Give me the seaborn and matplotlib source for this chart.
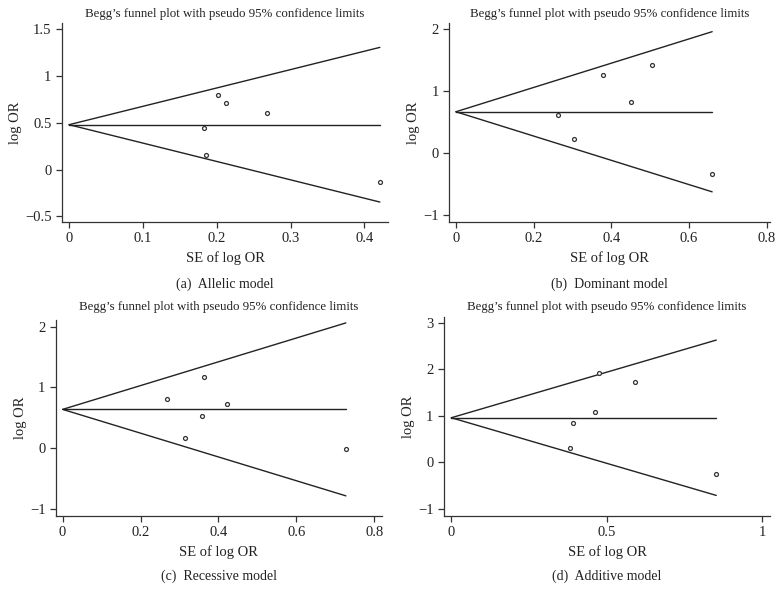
import numpy as np
import pandas as pd
import matplotlib
matplotlib.use("Agg")
import matplotlib.pyplot as plt
import seaborn as sns

# values (SE of log OR, log OR) per genetic model
se_allelic = [0.202, 0.213, 0.268, 0.183, 0.185, 0.421]
lor_allelic = [0.796, 0.707, 0.600, 0.446, 0.150, -0.136]
se_dominant = [0.264, 0.305, 0.380, 0.450, 0.505, 0.660]
lor_dominant = [0.618, 0.231, 1.258, 0.822, 1.429, -0.329]
se_recessive = [0.269, 0.314, 0.359, 0.362, 0.422, 0.727]
lor_recessive = [0.812, 0.159, 0.522, 1.175, 0.725, -0.022]
se_additive = [0.382, 0.392, 0.463, 0.474, 0.592, 0.853]
lor_additive = [0.295, 0.834, 1.078, 1.925, 1.717, -0.252]

pooled = [0.478, 0.671, 0.637, 0.955]
title = "Begg\u2019s funnel plot with pseudo 95% confidence limits"
captions = ["(a)  Allelic model", "(b)  Dominant model", "(c)  Recessive model", "(d)  Additive model"]
xticks = [[0, 0.1, 0.2, 0.3, 0.4], [0, 0.2, 0.4, 0.6, 0.8], [0, 0.2, 0.4, 0.6, 0.8], [0, 0.5, 1]]
xtick_labels = [["0", "0.1", "0.2", "0.3", "0.4"], ["0", "0.2", "0.4", "0.6", "0.8"],
                ["0", "0.2", "0.4", "0.6", "0.8"], ["0", "0.5", "1"]]
yticks = [[-0.5, 0, 0.5, 1, 1.5], [-1, 0, 1, 2], [-1, 0, 1, 2], [-1, 0, 1, 2, 3]]
ytick_labels = [["\u22120.5", "0", "0.5", "1", "1.5"], ["\u22121", "0", "1", "2"],
                ["\u22121", "0", "1", "2"], ["\u22121", "0", "1", "2", "3"]]
xlims = [(-0.0095, 0.432), (-0.017, 0.809), (-0.017, 0.819), (-0.0235, 1.026)]
ylims = [(-0.56, 1.56), (-1.11, 2.10), (-1.12, 2.11), (-1.16, 3.13)]

sns.set_theme(style="ticks")
plt.rcParams["font.family"] = ["Liberation Serif", "DejaVu Serif"]

W, H = 783, 602
fig = plt.figure(figsize=(W / 100, H / 100), dpi=100)
# panel rectangles in pixels: left, top, right, bottom
boxes = [(62, 23.3, 388, 222), (449.3, 23.3, 770, 222),
         (56, 320, 381.7, 516), (444, 316.7, 770, 516)]
title_y = [14, 14, 307, 307]
caption_y = [284, 284, 576, 576]
data = [(se_allelic, lor_allelic), (se_dominant, lor_dominant),
        (se_recessive, lor_recessive), (se_additive, lor_additive)]
line_col = "#222222"
text_col = "#222222"

for i, (se, lor) in enumerate(data):
    l, t, r, b = boxes[i]
    ax = fig.add_axes([l / W, 1 - b / H, (r - l) / W, (b - t) / H])
    df = pd.DataFrame({"se": se, "lor": lor})
    top = max(se)
    lines = pd.DataFrame({
        "se": [0, top] * 3,
        "val": [pooled[i], pooled[i],
                pooled[i], pooled[i] + 1.96 * top,
                pooled[i], pooled[i] - 1.96 * top],
        "kind": ["pooled"] * 2 + ["upper"] * 2 + ["lower"] * 2,
    })
    sns.lineplot(data=lines, x="se", y="val", units="kind", estimator=None,
                 color=line_col, linewidth=1.0, ax=ax, legend=False)
    sns.scatterplot(data=df, x="se", y="lor", ax=ax, marker="o", s=8,
                    facecolor="white", edgecolor="#333333", linewidth=0.9, zorder=3)
    ax.set_xlim(*xlims[i])
    ax.set_ylim(*ylims[i])
    ax.set_xticks(xticks[i])
    ax.set_xticklabels(xtick_labels[i])
    ax.set_yticks(yticks[i])
    ax.set_yticklabels(ytick_labels[i])
    ax.tick_params(axis="both", labelsize=10.5, length=4.5, width=0.9, pad=3,
                   color="#333333", labelcolor=text_col)
    sns.despine(ax=ax)
    for side in ["left", "bottom"]:
        ax.spines[side].set_linewidth(0.9)
        ax.spines[side].set_color("#333333")
    ax.set_xlabel("SE of log OR", fontsize=10.5, color=text_col, labelpad=4)
    ax.set_ylabel("log OR", fontsize=10.5, color=text_col, labelpad=2)

    cx = (l + r) / 2 / W
    fig.text(cx, 1 - title_y[i] / H, title, ha="center", va="center",
             fontsize=9.3, color=text_col)
    fig.text(cx, 1 - caption_y[i] / H, captions[i], ha="center", va="center",
             fontsize=10, color=text_col)

fig.savefig("out.png", dpi=100)
